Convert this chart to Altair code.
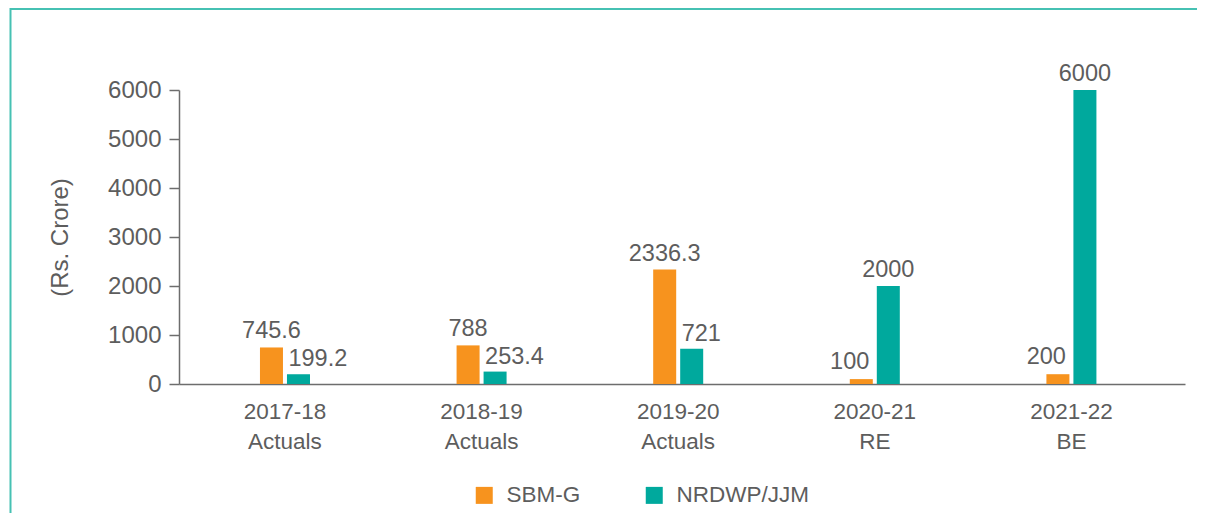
import altair as alt
import pandas as pd

years = ["2017-18", "2018-19", "2019-20", "2020-21", "2021-22"]
stages = ["Actuals", "Actuals", "Actuals", "RE", "BE"]
sbm_g = [745.6, 788, 2336.3, 100, 200]
nrdwp_jjm = [199.2, 253.4, 721, 2000, 6000]
series = ["SBM-G", "NRDWP/JJM"]
colors = ["#F7931E", "#00A99D"]
y_ticks = [0, 1000, 2000, 3000, 4000, 5000, 6000]

cats = [f"{y} {s}" for y, s in zip(years, stages)]
rows = []
for c, a, b in zip(cats, sbm_g, nrdwp_jjm):
    # role: the taller bar of a pair gets a centred label, the shorter one's label
    # is pushed away from its taller neighbour
    rows.append({"cat": c, "series": series[0], "value": a, "label": f"{a:g}",
                 "role": "top" if a >= b else "right"})
    rows.append({"cat": c, "series": series[1], "value": b, "label": f"{b:g}",
                 "role": "top" if b > a else "left"})
df = pd.DataFrame(rows)

FONT = "Liberation Sans"
TXT = "#5d5d5d"
AX = "#6d6d6d"
FRAME = "#46c1b3"
FS = 22.5
FS_VAL = 23.5

x = alt.X(
    "cat:N", sort=cats, title=None,
    scale=alt.Scale(paddingInner=0.7253, paddingOuter=0.421, align=0.477),
    axis=alt.Axis(labelExpr="split(datum.label, ' ')", labelAngle=0, ticks=False,
                  tickSize=0, labelPadding=16, labelLineHeight=30, labelFontSize=FS,
                  labelColor=TXT, labelFont=FONT, domainColor=AX, domainWidth=1.5,
                  grid=False),
)
xo = alt.XOffset("series:N", sort=series,
                 scale=alt.Scale(paddingInner=0.148, paddingOuter=0.074))
y = alt.Y(
    "value:Q", title="(Rs. Crore)",
    scale=alt.Scale(domain=[0, 6000], nice=False),
    axis=alt.Axis(values=y_ticks, format="d", tickSize=10, tickColor=AX, tickWidth=1.5,
                  labelPadding=8, labelFontSize=24, labelColor=TXT, labelFont=FONT,
                  domainColor=AX, domainWidth=1.5, grid=False, titlePadding=35,
                  titleFontSize=24, titleFontWeight="normal", titleColor=TXT,
                  titleFont=FONT),
)
color = alt.Color(
    "series:N", sort=series,
    scale=alt.Scale(domain=series, range=colors),
    legend=alt.Legend(orient="none", legendX=294, legendY=394, direction="horizontal",
                      title=None, symbolType="square", symbolSize=289,
                      symbolStrokeWidth=0, labelFontSize=FS, labelFont=FONT,
                      labelColor=TXT, labelOffset=11, columnPadding=62, padding=0),
)

base = alt.Chart(df)
bars = base.mark_bar().encode(x=x, xOffset=xo, y=y, color=color)

enc = dict(x=x, xOffset=xo, y=y, text="label:N")
lab_top = base.transform_filter("datum.role == 'top'").mark_text(
    baseline="alphabetic", align="center", dy=-9, fontSize=FS_VAL, font=FONT, color=TXT
).encode(**enc)
lab_left = base.transform_filter("datum.role == 'left'").mark_text(
    baseline="alphabetic", align="left", dx=-10, dy=-8, fontSize=FS_VAL, font=FONT, color=TXT
).encode(**enc)
lab_right = base.transform_filter("datum.role == 'right'").mark_text(
    baseline="alphabetic", align="right", dx=8, dy=-10, fontSize=FS_VAL, font=FONT, color=TXT
).encode(**enc)

frame_df = pd.DataFrame({"k": [0]})
top_line = alt.Chart(frame_df).mark_rule(color=FRAME, strokeWidth=2).encode(
    x=alt.value(-169), x2=alt.value(1018), y=alt.value(-81))
left_line = alt.Chart(frame_df).mark_rule(color=FRAME, strokeWidth=2).encode(
    x=alt.value(-168.5), y=alt.value(-82), y2=alt.value(430))

chart = alt.layer(bars, lab_top, lab_left, lab_right, top_line, left_line).properties(
    width=1006, height=294,
    autosize=alt.AutoSizeParams(type="none"),
    padding={"left": 171, "top": 82, "right": 12, "bottom": 129},
).configure_view(stroke=None)

chart.save("out.html", embed_options={"renderer": "svg", "actions": False})
